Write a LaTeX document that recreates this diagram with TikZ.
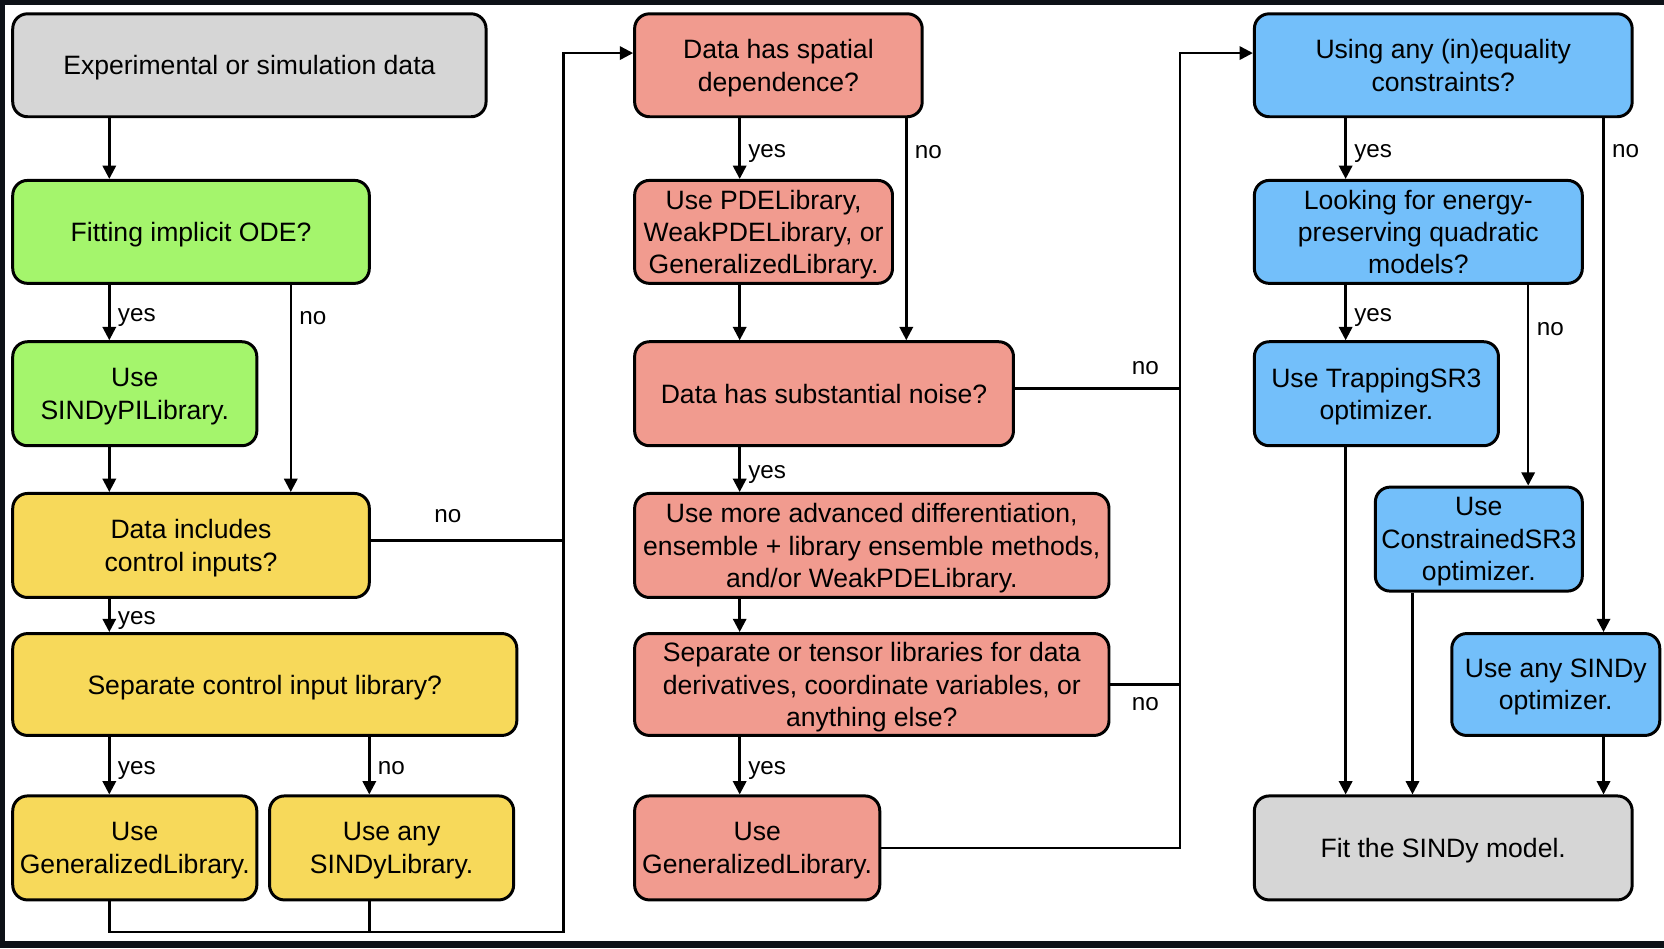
\documentclass[tikz,border=0pt]{standalone}
\usepackage{fontspec}
\setmainfont{Liberation Sans}
\usetikzlibrary{arrows.meta}

\definecolor{framedark}{HTML}{0D1117}
\definecolor{boxgray}{HTML}{D6D6D6}
\definecolor{boxgreen}{HTML}{A4F56C}
\definecolor{boxyellow}{HTML}{F7D95A}
\definecolor{boxred}{HTML}{F19B8F}
\definecolor{boxblue}{HTML}{73BFFA}

\begin{document}
\begin{tikzpicture}[
    box/.style={draw=black, line width=1.6pt, rounded corners=0.28cm, align=center, inner sep=0pt, text depth=0pt, font=\fontsize{14.25}{17.3}\selectfont},
    lbl/.style={font=\fontsize{13}{15}\selectfont, inner xsep=4pt, inner ysep=3pt, text depth=0pt},
    yeslbl/.style={lbl, right, yshift=-0.05cm},
    line/.style={line width=1.3pt},
    >={Triangle[length=0.25cm,width=0.25cm]}
    ]
        
        %Background and frame
        \fill[framedark] (0,0) rectangle (31.36,-17.866);
        \fill[white] (0.094,-0.094) rectangle (31.36,-17.73);
        
        %Boxes
        %Column 1
        \node[box, fill=boxgray, minimum width=8.92cm, minimum height=1.94cm] (B1) at (4.70,-1.23) {Experimental or simulation data};
        \node[box, fill=boxgreen, minimum width=6.72cm, minimum height=1.94cm] (B2) at (3.60,-4.37) {Fitting implicit ODE?};
        \node[box, fill=boxgreen, minimum width=4.60cm, minimum height=1.96cm] (B3) at (2.54,-7.42) {Use\\SINDyPILibrary.};
        \node[box, fill=boxyellow, minimum width=6.72cm, minimum height=1.96cm] (B4) at (3.60,-10.28) {Data includes\\control inputs?};
        \node[box, fill=boxyellow, minimum width=9.50cm, minimum height=1.92cm] (B5) at (4.99,-12.90) {Separate control input library?};
        \node[box, fill=boxyellow, minimum width=4.60cm, minimum height=1.96cm] (B6) at (2.54,-15.98) {Use\\GeneralizedLibrary.};
        \node[box, fill=boxyellow, minimum width=4.60cm, minimum height=1.96cm] (B7) at (7.38,-15.98) {Use any\\SINDyLibrary.};
        
        %Column 2
        \node[box, fill=boxred, minimum width=5.42cm, minimum height=1.94cm] (C1) at (14.67,-1.23) {Data has spatial\\dependence?};
        \node[box, fill=boxred, minimum width=4.86cm, minimum height=1.94cm] (C2) at (14.39,-4.37) {Use PDELibrary,\\WeakPDELibrary, or\\GeneralizedLibrary.};
        \node[box, fill=boxred, minimum width=7.14cm, minimum height=1.96cm] (C3) at (15.53,-7.42) {Data has substantial noise?};
        \node[box, fill=boxred, minimum width=8.94cm, minimum height=1.96cm] (C4) at (16.43,-10.28) {Use more advanced differentiation,\\ensemble + library ensemble methods,\\and/or WeakPDELibrary.};
        \node[box, fill=boxred, minimum width=8.94cm, minimum height=1.92cm] (C5) at (16.43,-12.90) {Separate or tensor libraries for data\\derivatives, coordinate variables, or\\anything else?};
        \node[box, fill=boxred, minimum width=4.62cm, minimum height=1.96cm] (C6) at (14.27,-15.98) {Use\\GeneralizedLibrary.};
        
        %Column 3
        \node[box, fill=boxblue, minimum width=7.12cm, minimum height=1.94cm] (D1) at (27.20,-1.23) {Using any (in)equality\\constraints?};
        \node[box, fill=boxblue, minimum width=6.18cm, minimum height=1.94cm] (D2) at (26.73,-4.37) {Looking for energy-\\preserving quadratic\\models?};
        \node[box, fill=boxblue, minimum width=4.60cm, minimum height=1.96cm] (D3) at (25.94,-7.42) {Use TrappingSR3\\optimizer.};
        \node[box, fill=boxblue, minimum width=3.90cm, minimum height=1.96cm] (D4) at (27.87,-10.16) {Use\\ConstrainedSR3\\optimizer.};
        \node[box, fill=boxblue, minimum width=3.92cm, minimum height=1.92cm] (D5) at (29.32,-12.90) {Use any SINDy\\optimizer.};
        \node[box, fill=boxgray, minimum width=7.12cm, minimum height=1.96cm] (D6) at (27.20,-15.98) {Fit the SINDy model.};
        
        %Guide coordinates
        \coordinate (xa) at (2.06,0);
        \coordinate (xb) at (5.48,0);
        \coordinate (xc) at (6.96,0);
        \coordinate (xd) at (10.62,0);
        \coordinate (xe) at (13.94,0);
        \coordinate (xf) at (17.08,0);
        \coordinate (xg) at (22.24,0);
        \coordinate (xh) at (25.36,0);
        \coordinate (xi) at (26.62,0);
        \coordinate (xj) at (28.80,0);
        \coordinate (xk) at (30.22,0);
        \coordinate (ya) at (0,-1.0);
        \coordinate (yb) at (0,-17.56);
        \coordinate (yc) at (0,-10.19);
        \coordinate (yd) at (0,-7.32);
        
        %Edges
        %Column 1
        \draw[line,->] (B1.south -| xa) -- (B2.north -| xa);
        \draw[line,->] (B2.south -| xa) -- node[yeslbl]{yes} (B3.north -| xa);
        \draw[line,->] (B2.south -| xb) -- node[lbl,right,pos=.16]{no} (B4.north -| xb);
        \draw[line,->] (B3.south -| xa) -- (B4.north -| xa);
        \draw[line,->] (B4.south -| xa) -- node[yeslbl]{yes} (B5.north -| xa);
        \draw[line,->] (B5.south -| xa) -- node[yeslbl]{yes} (B6.north -| xa);
        \draw[line,->] (B5.south -| xc) -- node[yeslbl]{no} (B7.north -| xc);
        \draw[line] (B4.east |- yc) -- node[lbl,above=0.21cm,pos=.4]{no} (yc -| xd);
        \draw[line,->] (B6.south -| xa) |- (yb -| xd) -- (ya -| xd) -- (C1.west |- ya);
        \draw[line] (B7.south -| xc) -- (yb -| xc);
        
        %Column 2
        \draw[line,->] (C1.south -| xe) -- node[yeslbl]{yes} (C2.north -| xe);
        \draw[line,->] (C1.south -| xf) -- node[lbl,right,pos=.15]{no} (C3.north -| xf);
        \draw[line,->] (C2.south -| xe) -- (C3.north -| xe);
        \draw[line,->] (C3.south -| xe) -- node[yeslbl]{yes} (C4.north -| xe);
        \draw[line,->] (C4.south -| xe) -- (C5.north -| xe);
        \draw[line,->] (C5.south -| xe) -- node[yeslbl]{yes} (C6.north -| xe);
        \draw[line] (C3.east |- yd) -- node[lbl,above=0.135cm,pos=.79]{no} (yd -| xg);
        \draw[line] (C5.east) -- node[lbl,below=0.115cm]{no} (C5.east -| xg);
        \draw[line,->] (C6.east) -| (ya -| xg) -- (D1.west |- ya);
        
        %Column 3
        \draw[line,->] (D1.south -| xh) -- node[yeslbl]{yes} (D2.north -| xh);
        \draw[line,->] (D1.south -| xk) -- node[lbl,right,pos=.064]{no} (D5.north -| xk);
        \draw[line,->] (D2.south -| xh) -- node[yeslbl]{yes} (D3.north -| xh);
        \draw[line,->] (D2.south -| xj) -- node[lbl,right,pos=.22]{no} (D4.north -| xj);
        \draw[line,->] (D3.south -| xh) -- (D6.north -| xh);
        \draw[line,->] (D4.south -| xi) -- (D6.north -| xi);
        \draw[line,->] (D5.south -| xk) -- (D6.north -| xk);
        
\end{tikzpicture}
\end{document}
